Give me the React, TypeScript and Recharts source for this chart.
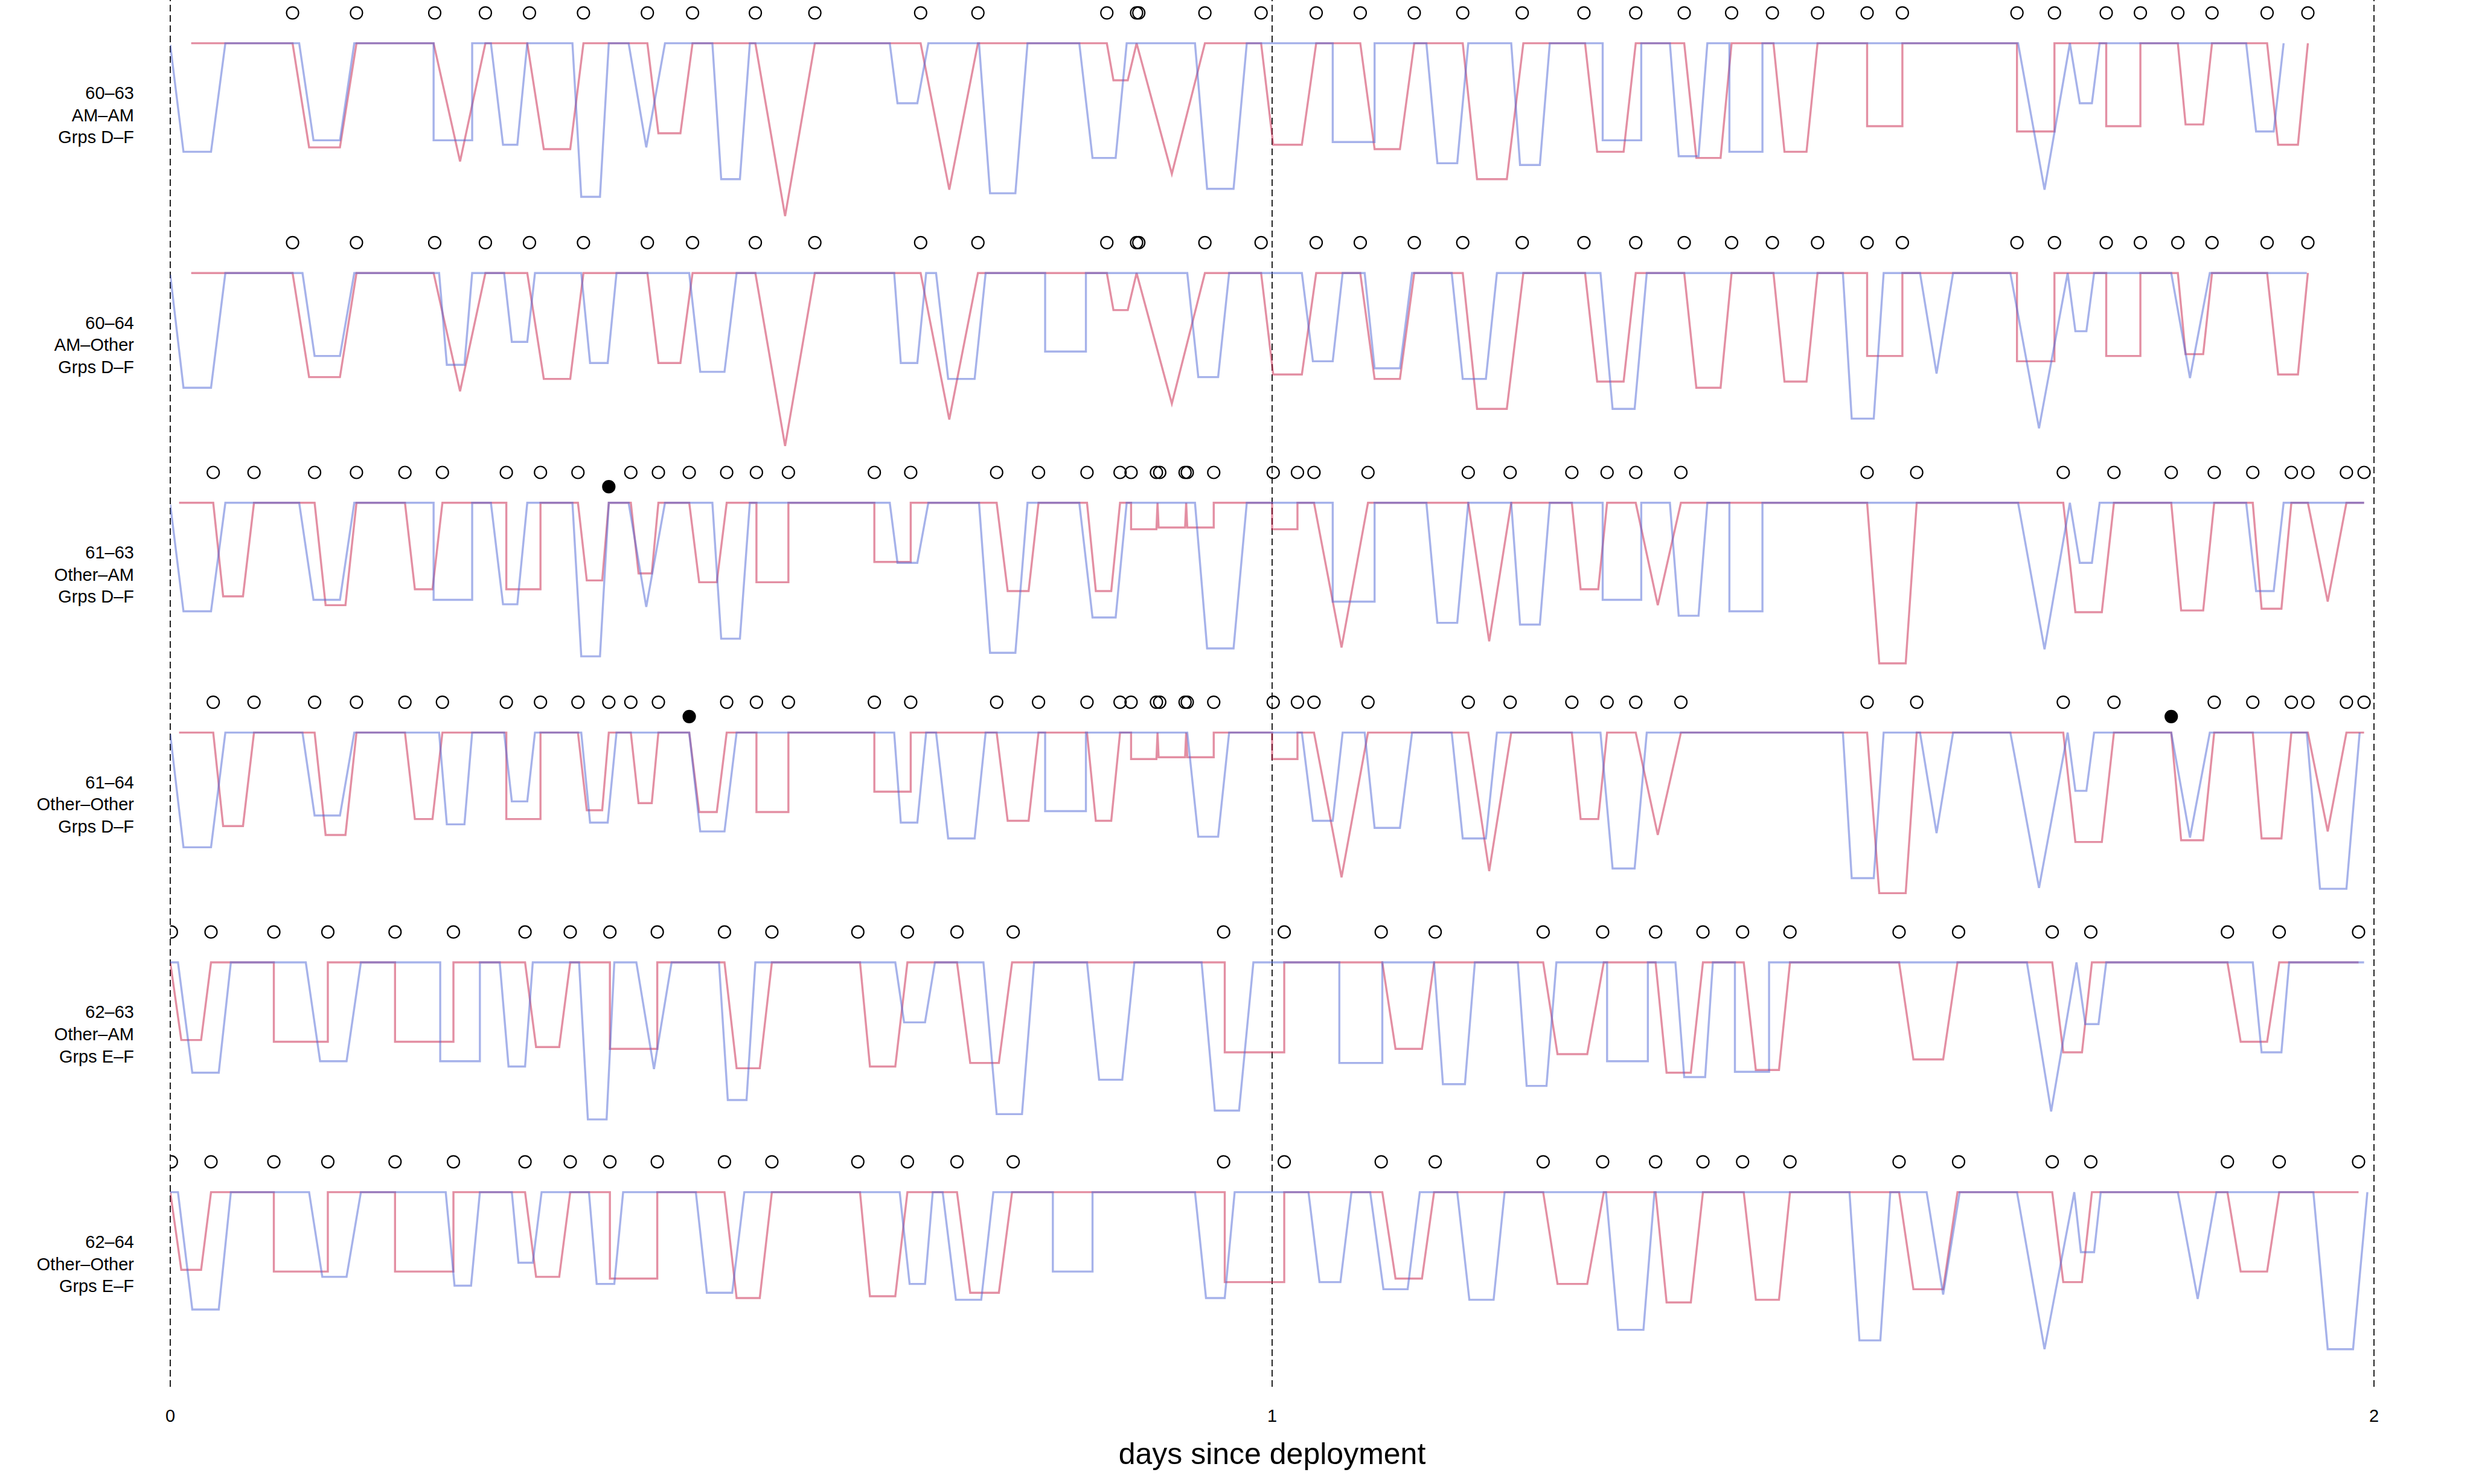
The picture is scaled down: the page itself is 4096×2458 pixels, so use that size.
import React from 'react';
import { ComposedChart, Line, Scatter, XAxis, YAxis, ReferenceLine } from 'recharts';

type Pt = [number, number];

// [days since deployment, level] — level 1 = top plateau of each row
const red60: Pt[] = [
  [0.019, 1], [0.111, 1], [0.126, 0.41], [0.154, 0.41], [0.169, 1],
  [0.239, 1], [0.263, 0.33], [0.286, 1],
  [0.324, 1], [0.339, 0.4], [0.363, 0.4], [0.375, 1],
  [0.433, 1], [0.443, 0.49], [0.463, 0.49], [0.474, 1],
  [0.531, 1], [0.558, 0.02], [0.585, 1],
  [0.681, 1], [0.707, 0.17], [0.733, 1],
  [0.85, 1], [0.856, 0.79], [0.869, 0.79], [0.877, 1],
  [0.909, 0.26], [0.939, 1],
  [0.99, 1], [1.001, 0.425], [1.027, 0.425], [1.04, 1],
  [1.08, 1], [1.093, 0.4], [1.116, 0.4], [1.129, 1],
  [1.173, 1], [1.186, 0.23], [1.213, 0.23], [1.228, 1],
  [1.284, 1], [1.295, 0.385], [1.319, 0.385], [1.33, 1],
  [1.374, 1], [1.385, 0.35], [1.407, 0.35], [1.417, 1],
  [1.455, 1], [1.465, 0.385], [1.485, 0.385], [1.495, 1],
  [1.54, 1], [1.54, 0.53], [1.572, 0.53], [1.572, 1],
  [1.676, 1], [1.676, 0.5], [1.71, 0.5], [1.71, 1],
  [1.757, 1], [1.757, 0.53], [1.788, 0.53], [1.788, 1],
  [1.822, 1], [1.829, 0.54], [1.845, 0.54], [1.853, 1],
  [1.903, 1], [1.913, 0.425], [1.931, 0.425], [1.94, 1],
];

const red61: Pt[] = [
  [0.008, 1], [0.039, 1], [0.048, 0.47], [0.066, 0.47], [0.076, 1],
  [0.131, 1], [0.141, 0.42], [0.159, 0.42], [0.169, 1],
  [0.213, 1], [0.222, 0.51], [0.238, 0.51], [0.247, 1],
  [0.305, 1], [0.305, 0.51], [0.336, 0.51], [0.336, 1],
  [0.37, 1], [0.378, 0.56], [0.392, 0.56], [0.398, 1],
  [0.418, 1], [0.425, 0.6], [0.437, 0.6], [0.443, 1],
  [0.471, 1], [0.48, 0.55], [0.496, 0.55], [0.505, 1],
  [0.532, 1], [0.532, 0.55], [0.561, 0.55], [0.561, 1],
  [0.639, 1], [0.639, 0.665], [0.672, 0.665], [0.672, 1],
  [0.75, 1], [0.76, 0.5], [0.779, 0.5], [0.788, 1],
  [0.832, 1], [0.84, 0.5], [0.854, 0.5], [0.862, 1],
  [0.872, 1], [0.872, 0.85], [0.895, 0.85], [0.896, 1], [0.897, 0.86], [0.921, 0.86],
  [0.922, 1], [0.923, 0.86], [0.947, 0.86], [0.947, 1],
  [1.0, 1], [1.0, 0.85], [1.023, 0.85], [1.023, 1],
  [1.038, 1], [1.063, 0.18], [1.087, 1],
  [1.178, 1], [1.197, 0.215], [1.217, 1],
  [1.272, 1], [1.28, 0.51], [1.296, 0.51], [1.304, 1],
  [1.33, 1], [1.35, 0.42], [1.371, 1],
  [1.54, 1], [1.551, 0.09], [1.575, 0.09], [1.585, 1],
  [1.718, 1], [1.729, 0.38], [1.753, 0.38], [1.764, 1],
  [1.816, 1], [1.825, 0.39], [1.845, 0.39], [1.855, 1],
  [1.89, 1], [1.898, 0.4], [1.916, 0.4], [1.925, 1],
  [1.94, 1], [1.958, 0.44], [1.975, 1],
  [1.991, 1],
];

const red62: Pt[] = [
  [0.0, 1], [0.01, 0.56], [0.028, 0.56], [0.037, 1],
  [0.094, 1], [0.094, 0.55], [0.143, 0.55], [0.143, 1],
  [0.204, 1], [0.204, 0.55], [0.257, 0.55], [0.257, 1],
  [0.322, 1], [0.332, 0.52], [0.353, 0.52], [0.363, 1],
  [0.399, 1], [0.399, 0.51], [0.442, 0.51], [0.442, 1],
  [0.503, 1], [0.514, 0.4], [0.535, 0.4], [0.546, 1],
  [0.626, 1], [0.635, 0.41], [0.658, 0.41], [0.669, 1],
  [0.714, 1], [0.726, 0.43], [0.752, 0.43], [0.764, 1],
  [0.957, 1], [0.957, 0.49], [1.011, 0.49], [1.011, 1],
  [1.1, 1], [1.112, 0.51], [1.136, 0.51], [1.147, 1],
  [1.246, 1], [1.259, 0.48], [1.286, 0.48], [1.301, 1],
  [1.348, 1], [1.358, 0.375], [1.38, 0.375], [1.391, 1],
  [1.428, 1], [1.439, 0.39], [1.46, 0.39], [1.47, 1],
  [1.569, 1], [1.582, 0.45], [1.609, 0.45], [1.622, 1],
  [1.708, 1], [1.718, 0.49], [1.735, 0.49], [1.744, 1],
  [1.867, 1], [1.879, 0.55], [1.903, 0.55], [1.914, 1],
  [1.986, 1],
];

const blue63: Pt[] = [
  [0, 0.99], [0.012, 0.385], [0.037, 0.385], [0.05, 1],
  [0.117, 1], [0.13, 0.45], [0.154, 0.45], [0.167, 1],
  [0.239, 1], [0.239, 0.45], [0.274, 0.45], [0.274, 1],
  [0.291, 1], [0.302, 0.425], [0.315, 0.425], [0.324, 1],
  [0.365, 1], [0.373, 0.13], [0.39, 0.13], [0.398, 1],
  [0.416, 1], [0.432, 0.41], [0.449, 1],
  [0.492, 1], [0.5, 0.23], [0.517, 0.23], [0.526, 1],
  [0.653, 1], [0.66, 0.66], [0.678, 0.66], [0.688, 1],
  [0.734, 1], [0.744, 0.15], [0.767, 0.15], [0.778, 1],
  [0.825, 1], [0.837, 0.35], [0.858, 0.35], [0.868, 1],
  [0.93, 1], [0.941, 0.175], [0.965, 0.175], [0.977, 1],
  [1.055, 1], [1.055, 0.44], [1.093, 0.44], [1.093, 1],
  [1.14, 1], [1.15, 0.32], [1.168, 0.32], [1.178, 1],
  [1.217, 1], [1.225, 0.31], [1.243, 0.31], [1.252, 1],
  [1.3, 1], [1.3, 0.45], [1.335, 0.45], [1.335, 1],
  [1.361, 1], [1.369, 0.36], [1.387, 0.36], [1.395, 1],
  [1.415, 1], [1.415, 0.385], [1.445, 0.385], [1.445, 1],
  [1.677, 1], [1.701, 0.17], [1.724, 1],
  [1.733, 0.66], [1.744, 0.66], [1.751, 1],
  [1.884, 1], [1.893, 0.5], [1.909, 0.5], [1.918, 1],
  [1.991, 1],
];

const blue64: Pt[] = [
  [0, 0.99], [0.012, 0.35], [0.037, 0.35], [0.05, 1],
  [0.12, 1], [0.131, 0.53], [0.154, 0.53], [0.167, 1],
  [0.244, 1], [0.251, 0.48], [0.267, 0.48], [0.274, 1],
  [0.303, 1], [0.31, 0.61], [0.324, 0.61], [0.331, 1],
  [0.373, 1], [0.381, 0.49], [0.397, 0.49], [0.405, 1],
  [0.471, 1], [0.481, 0.44], [0.503, 0.44], [0.514, 1],
  [0.657, 1], [0.663, 0.49], [0.678, 0.49], [0.686, 1],
  [0.695, 1], [0.706, 0.4], [0.73, 0.4], [0.74, 1],
  [0.794, 1], [0.794, 0.555], [0.831, 0.555], [0.831, 1],
  [0.923, 1], [0.933, 0.41], [0.951, 0.41], [0.961, 1],
  [1.027, 1], [1.037, 0.5], [1.055, 0.5], [1.064, 1],
  [1.084, 1], [1.093, 0.46], [1.116, 0.46], [1.127, 1],
  [1.163, 1], [1.173, 0.4], [1.194, 0.4], [1.204, 1],
  [1.298, 1], [1.309, 0.23], [1.329, 0.23], [1.34, 1],
  [1.518, 1], [1.526, 0.175], [1.546, 0.175], [1.555, 1],
  [1.588, 1], [1.603, 0.43], [1.618, 1],
  [1.67, 1], [1.696, 0.12], [1.722, 1],
  [1.729, 0.67], [1.739, 0.67], [1.746, 1],
  [1.816, 1], [1.833, 0.405], [1.851, 1],
  [1.939, 1], [1.951, 0.115], [1.975, 0.115], [1.987, 1],
];

const blue63E: Pt[] = [
  [0, 1], [0.007, 1], [0.02, 0.375], [0.044, 0.375], [0.055, 1],
  [0.123, 1], [0.136, 0.44], [0.16, 0.44], [0.173, 1],
  [0.245, 1], [0.245, 0.44], [0.281, 0.44], [0.281, 1],
  [0.299, 1], [0.307, 0.41], [0.322, 0.41], [0.329, 1],
  [0.371, 1], [0.379, 0.11], [0.396, 0.11], [0.403, 1],
  [0.423, 1], [0.439, 0.395], [0.455, 1],
  [0.498, 1], [0.506, 0.22], [0.523, 0.22], [0.531, 1],
  [0.658, 1], [0.666, 0.66], [0.685, 0.66], [0.694, 1],
  [0.738, 1], [0.75, 0.14], [0.773, 0.14], [0.784, 1],
  [0.832, 1], [0.843, 0.335], [0.864, 0.335], [0.875, 1],
  [0.936, 1], [0.948, 0.16], [0.97, 0.16], [0.983, 1],
  [1.061, 1], [1.061, 0.43], [1.1, 0.43], [1.1, 1],
  [1.147, 1], [1.155, 0.31], [1.175, 0.31], [1.184, 1],
  [1.223, 1], [1.231, 0.3], [1.249, 0.3], [1.258, 1],
  [1.304, 1], [1.304, 0.44], [1.341, 0.44], [1.341, 1],
  [1.366, 1], [1.374, 0.35], [1.393, 0.35], [1.4, 1],
  [1.42, 1], [1.42, 0.38], [1.451, 0.38], [1.451, 1],
  [1.685, 1], [1.707, 0.155], [1.73, 1],
  [1.738, 0.65], [1.75, 0.65], [1.757, 1],
  [1.89, 1], [1.898, 0.49], [1.916, 0.49], [1.923, 1],
  [1.991, 1],
];

const blue64E: Pt[] = [
  [0, 1], [0.007, 1], [0.02, 0.335], [0.044, 0.335], [0.055, 1],
  [0.126, 1], [0.138, 0.52], [0.16, 0.52], [0.173, 1],
  [0.25, 1], [0.258, 0.47], [0.273, 0.47], [0.281, 1],
  [0.31, 1], [0.316, 0.6], [0.329, 0.6], [0.337, 1],
  [0.38, 1], [0.387, 0.48], [0.403, 0.48], [0.411, 1],
  [0.477, 1], [0.487, 0.43], [0.51, 0.43], [0.521, 1],
  [0.662, 1], [0.671, 0.48], [0.685, 0.48], [0.692, 1],
  [0.701, 1], [0.713, 0.39], [0.736, 0.39], [0.747, 1],
  [0.801, 1], [0.801, 0.55], [0.837, 0.55], [0.837, 1],
  [0.93, 1], [0.94, 0.4], [0.957, 0.4], [0.966, 1],
  [1.033, 1], [1.043, 0.49], [1.062, 0.49], [1.072, 1],
  [1.089, 1], [1.101, 0.45], [1.123, 0.45], [1.134, 1],
  [1.168, 1], [1.179, 0.39], [1.201, 0.39], [1.211, 1],
  [1.303, 1], [1.314, 0.22], [1.337, 0.22], [1.347, 1],
  [1.524, 1], [1.533, 0.16], [1.552, 0.16], [1.561, 1],
  [1.594, 1], [1.609, 0.42], [1.624, 1],
  [1.676, 1], [1.701, 0.11], [1.728, 1],
  [1.734, 0.66], [1.746, 0.66], [1.752, 1],
  [1.822, 1], [1.84, 0.395], [1.857, 1],
  [1.945, 1], [1.958, 0.11], [1.981, 0.11], [1.994, 1],
];

// event markers (days)
const circles60 = [
  0.111, 0.169, 0.24, 0.286, 0.326, 0.375, 0.433, 0.474, 0.531, 0.585, 0.681, 0.733,
  0.85, 0.877, 0.879, 0.939, 0.99, 1.04, 1.08, 1.129, 1.173, 1.227, 1.283, 1.33,
  1.374, 1.417, 1.454, 1.495, 1.54, 1.572, 1.676, 1.71, 1.757, 1.788, 1.822, 1.853,
  1.903, 1.94,
];
const circles61 = [
  0.039, 0.076, 0.131, 0.169, 0.213, 0.247, 0.305, 0.336, 0.37, 0.398, 0.418, 0.443,
  0.471, 0.505, 0.532, 0.561, 0.639, 0.672, 0.75, 0.788, 0.832, 0.862, 0.872, 0.895,
  0.898, 0.921, 0.923, 0.947, 1.001, 1.023, 1.038, 1.087, 1.178, 1.216, 1.272, 1.304,
  1.33, 1.371, 1.54, 1.585, 1.718, 1.764, 1.816, 1.855, 1.89, 1.925, 1.94, 1.975, 1.991,
];
const circles62 = [
  0.001, 0.037, 0.094, 0.143, 0.204, 0.257, 0.322, 0.363, 0.399, 0.442, 0.503, 0.546,
  0.624, 0.669, 0.714, 0.765, 0.956, 1.011, 1.099, 1.148, 1.246, 1.3, 1.348, 1.391,
  1.427, 1.47, 1.569, 1.623, 1.708, 1.743, 1.867, 1.914, 1.986,
];
const filledRow3 = [0.398];
const filledRow4 = [0.471, 1.816];

const rowLabels = [
  ['60–63', 'AM–AM', 'Grps D–F'],
  ['60–64', 'AM–Other', 'Grps D–F'],
  ['61–63', 'Other–AM', 'Grps D–F'],
  ['61–64', 'Other–Other', 'Grps D–F'],
  ['62–63', 'Other–AM', 'Grps E–F'],
  ['62–64', 'Other–Other', 'Grps E–F'],
];

const xTicks = [0, 1, 2];

const rows = [
  { red: red60, blue: blue63.filter((p) => p[0] <= 1.92), circles: circles60, filled: [] as number[] },
  { red: red60, blue: blue64.filter((p) => p[0] <= 1.94), circles: circles60, filled: [] as number[] },
  { red: red61, blue: blue63, circles: circles61, filled: filledRow3 },
  { red: red61, blue: blue64, circles: circles61, filled: filledRow4 },
  { red: red62, blue: blue63E, circles: circles62, filled: [] as number[] },
  { red: red62, blue: blue64E, circles: circles62, filled: [] as number[] },
];

const ROW_STEP = 1.302;
const CIRCLE_LEVEL = 1.172;
const FILLED_LEVEL = 1.091;
const LABEL_LEVEL = 0.602;

const RED = '#c71f47';
const BLUE = '#4d65d5';
const FONT = '"Liberation Sans", Arial, sans-serif';

const toXY = (pts: Pt[], k: number) => pts.map(([d, v]) => ({ x: d, y: v - ROW_STEP * k }));

const openPts = rows.flatMap((r, k) =>
  r.circles.filter((d) => !r.filled.includes(d)).map((d) => ({ x: d, y: CIRCLE_LEVEL - ROW_STEP * k })),
);
const filledPts = rows.flatMap((r, k) => r.filled.map((d) => ({ x: d, y: FILLED_LEVEL - ROW_STEP * k })));
const labelTicks = rows.map((_, k) => LABEL_LEVEL - ROW_STEP * k);

function RowTick(props: any) {
  const { y, index } = props;
  const lines = rowLabels[index] ?? [];
  return (
    <text x={222} y={y} textAnchor="end" fontFamily={FONT} fontSize={29} fill="#000">
      {lines.map((t: string, i: number) => (
        <tspan key={i} x={222} dy={i === 0 ? -24 : 36.6}>
          {t}
        </tspan>
      ))}
    </text>
  );
}

function DayTick(props: any) {
  const { x, y, payload } = props;
  return (
    <text x={x} y={y + 56} textAnchor="middle" fontFamily={FONT} fontSize={29} fill="#000">
      {payload.value}
    </text>
  );
}

const OpenCircle = (p: any) => <circle cx={p.cx} cy={p.cy} r={10} fill="none" stroke="#000" strokeWidth={2.2} />;
const FilledCircle = (p: any) => <circle cx={p.cx} cy={p.cy} r={10} fill="#000" stroke="#000" strokeWidth={2.2} />;

export default function App() {
  return (
    <div style={{ position: 'absolute', left: 0, top: 0, width: 4096, height: 2458, background: '#fff' }}>
      <ComposedChart width={4096} height={2458} margin={{ top: 0, right: 164, bottom: 101, left: 82 }}>
        <XAxis
          type="number"
          dataKey="x"
          domain={[0, 2]}
          ticks={xTicks}
          allowDataOverflow
          axisLine={false}
          tickLine={false}
          tickSize={0}
          height={60}
          tick={<DayTick />}
          label={{
            value: 'days since deployment',
            position: 'insideBottom',
            offset: -68,
            style: { fontFamily: FONT, fontSize: 50, fill: '#000' },
          }}
        />
        <YAxis
          type="number"
          dataKey="y"
          domain={[-6.613, 1.245]}
          ticks={labelTicks}
          interval={0}
          allowDataOverflow
          axisLine={false}
          tickLine={false}
          width={200}
          tick={<RowTick />}
        />
        {xTicks.map((d) => (
          <ReferenceLine key={d} x={d} stroke="#222" strokeWidth={2} strokeDasharray="11 6" />
        ))}
        {rows.map((r, k) => (
          <Line
            key={`r${k}`}
            data={toXY(r.red, k)}
            dataKey="y"
            type="linear"
            stroke={RED}
            strokeOpacity={0.5}
            strokeWidth={3.4}
            dot={false}
            activeDot={false}
            isAnimationActive={false}
          />
        ))}
        {rows.map((r, k) => (
          <Line
            key={`b${k}`}
            data={toXY(r.blue, k)}
            dataKey="y"
            type="linear"
            stroke={BLUE}
            strokeOpacity={0.5}
            strokeWidth={3.4}
            dot={false}
            activeDot={false}
            isAnimationActive={false}
          />
        ))}
        <Scatter data={openPts} dataKey="y" shape={OpenCircle} isAnimationActive={false} />
        <Scatter data={filledPts} dataKey="y" shape={FilledCircle} isAnimationActive={false} />
      </ComposedChart>
    </div>
  );
}
